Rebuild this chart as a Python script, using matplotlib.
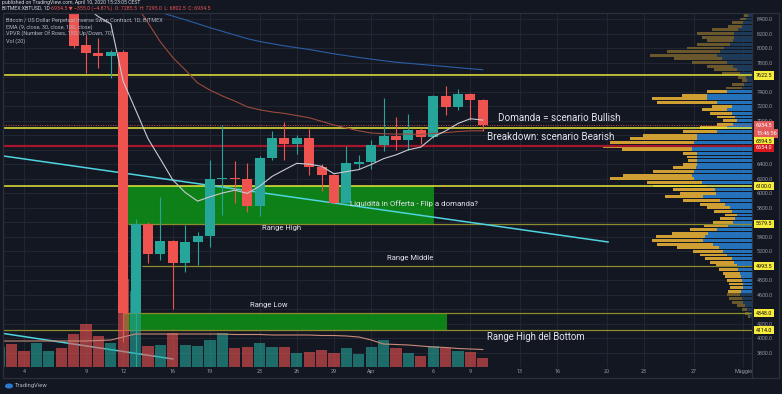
import matplotlib
matplotlib.use("Agg")
import matplotlib.pyplot as plt
from matplotlib.patches import Rectangle, Ellipse

plt.rcParams['font.family'] = ['Roboto', 'DejaVu Sans']

# ---------------- data ----------------
# day numbers: 2..31 = March 2..31, 32..41 = April 1..10
day_nums = list(range(2, 42))
opens = [8540, 8900, 8760, 8750, 9070, 9150, 8900, 8040, 7928, 7890,
         7940, 4352, 5577, 5164, 5340, 5036, 5325, 5415, 6193, 6210,
         6197, 5825, 6490, 6761, 6680, 6761, 6358, 6248, 5862, 6408,
         6431, 6666, 6793, 6738, 6875, 6771, 7336, 7188, 7368, 7285.5]
highs = [8950, 8980, 8850, 9150, 9190, 9200, 8920, 8180, 8140, 7970,
         7970, 5640, 5605, 5950, 5360, 5560, 5460, 6462, 6945, 6440,
         6417, 6520, 6860, 6986, 6800, 6890, 6400, 6265, 6647, 6531,
         6740, 7312, 7051, 7092, 6895, 7350, 7473, 7440, 7380, 7295]
lows = [8500, 8660, 8650, 8740, 9010, 8850, 8000, 7650, 7725, 7590,
        3950, 3600, 5040, 5080, 4400, 4920, 5012, 5265, 5700, 5866,
        5747, 5690, 6458, 6462, 6540, 6256, 6031, 5850, 5855, 6340,
        6340, 6578, 6600, 6600, 6680, 6760, 7074, 7151, 7013, 6860]
closes = [8900, 8760, 8750, 9070, 9150, 8900, 8030, 7928, 7890, 7940,
          4352, 5577, 5164, 5340, 5036, 5325, 5415, 6193, 6210, 6197,
          5825, 6490, 6761, 6680, 6761, 6358, 6248, 5862, 6417, 6431,
          6666, 6793, 6738, 6875, 6771, 7336, 7188, 7368, 7289, 6934.5]
volumes = [2.0, 2.3, 1.6, 2.4, 1.6, 1.9, 3.3, 4.3, 3.1, 2.4,
           8.8, 7.6, 2.1, 2.2, 3.4, 2.2, 2.1, 2.7, 3.4, 1.9,
           2.0, 2.4, 2.0, 2.0, 1.4, 1.5, 1.7, 1.4, 1.9, 1.3,
           2.0, 2.7, 1.9, 1.4, 1.1, 2.1, 1.9, 1.6, 1.5, 0.9]
vol_ma = [2.6, 2.6, 2.6, 2.6, 2.6, 2.6, 2.6, 2.6, 2.65, 2.7,
          3.0, 3.3, 3.3, 3.3, 3.3, 3.3, 3.3, 3.3, 3.3, 3.25,
          3.25, 3.25, 3.2, 3.2, 3.2, 3.2, 3.15, 3.15, 3.1, 3.0,
          2.7, 2.3, 2.25, 2.2, 2.1, 2.0, 1.95, 1.85, 1.8, 1.75]
ema9 = [8760, 8790, 8800, 8860, 8930, 8920, 8726, 8567, 8431, 8333,
        7542, 7149, 6752, 6470, 6183, 6011, 5892, 5952, 6004, 6042,
        5999, 6097, 6232, 6323, 6412, 6401, 6371, 6269, 6298, 6326,
        6396, 6477, 6529, 6599, 6635, 6776, 6859, 6961, 7026, 7008]
ema30 = [9450, 9420, 9390, 9370, 9360, 9340, 9280, 9220, 9160, 9110,
         8800, 8600, 8350, 8083, 7870, 7700, 7520, 7420, 7340, 7270,
         7190, 7150, 7120, 7100, 7070, 7040, 6990, 6940, 6900, 6860,
         6830, 6820, 6815, 6815, 6810, 6825, 6835, 6850, 6860, 6860]
ema100 = [8960, 8950, 8940, 8930, 8920, 8910, 8890, 8860, 8830, 8800,
          8700, 8620, 8550, 8490, 8440, 8390, 8335, 8280, 8230, 8180,
          8130, 8090, 8060, 8030, 8005, 7980, 7950, 7920, 7895, 7870,
          7848, 7825, 7805, 7790, 7775, 7760, 7745, 7730, 7715, 7702]

x_tick_days = [4, 9, 12, 16, 19, 23, 26, 29, 32, 37, 40, 44, 47, 51, 54, 58, 62]
x_tick_labels = ['4', '9', '12', '16', '19', '23', '26', '29', 'Apr', '6', '9',
                 '13', '16', '20', '23', '27', 'Maggio']
price_ticks = [3800, 4000, 4200, 4600, 4800, 5200, 5400, 5800, 6000, 6200,
               6400, 7000, 7200, 7400, 7800, 8000, 8200, 8400]
grid_prices = list(range(3800, 8600, 200))

levels_bright = [7622.5, 6894.5, 6100.0]
levels_dim = [5579.5, 4993.5, 4348.0, 4114.0]
levels_dim_start = [12.4, 13.5, 12.0, 1.0]
level_red = 6654.0
last_price = 6934.5

zone_days = [(12.4, 37.1), (12.0, 38.1)]
zone_prices = [(5579.5, 6100.0), (4114.0, 4348.0)]

trend1_days = [2.31, 51.1]
trend1_prices = [6514, 5329]
trend2_days = [2.06, 16.0]
trend2_prices = [4076, 3718]

vp_prices = list(range(8450, 4250, -50))
vp_total = [8, 12, 20, 24, 40, 55, 50, 45, 55, 65,
            85, 102, 78, 60, 45, 38, 30, 14, 10, 20,
            26, 45, 70, 100, 95, 40, 50, 42, 35, 29,
            35, 52, 69, 109, 122, 142, 149, 130, 69, 65,
            64, 69, 79, 99, 129, 142, 105, 99, 79, 72,
            87, 69, 52, 45, 38, 27, 32, 39, 48, 62,
            80, 96, 100, 95, 75, 59, 52, 47, 42, 36,
            33, 29, 27, 25, 23, 22, 24, 25, 23, 20,
            15, 10, 7, 4]
vp_up = [4, 6, 9, 10, 14, 18, 18, 19, 22, 28,
         32, 35, 30, 25, 19, 15, 12, 6, 5, 8,
         10, 25, 45, 45, 35, 20, 25, 20, 17, 15,
         19, 25, 35, 55, 55, 58, 60, 60, 55, 55,
         55, 55, 56, 58, 60, 58, 50, 45, 37, 36,
         49, 32, 27, 22, 20, 15, 17, 19, 24, 35,
         44, 47, 49, 39, 33, 29, 25, 20, 18, 15,
         14, 12, 11, 10, 9, 9, 11, 12, 10, 9,
         7, 5, 3, 2]
VA_LOW, VA_HIGH = 4620, 7420

# ---------------- styles ----------------
BG = '#131722'
GRID = '#232733'
TXT = '#9598a1'
UP = '#26a69a'
DN = '#ef5350'
YEL = '#e8e63a'
YEL_LBL = '#f7ec3c'
OLIVE = '#8e8b2c'
RED_LINE = '#a3162b'
CYAN = '#4fd3e0'
ZONE = '#0e8f17'
FRAME = '#2c303b'
ANN = '#e1e3ea'

FIG_W, FIG_H = 782, 394
fig = plt.figure(figsize=(FIG_W / 100, FIG_H / 100), dpi=100, facecolor=BG)
PL, PR, PT, PB = 3, 752, 13, 367
rect = [PL / FIG_W, 1 - PB / FIG_H, (PR - PL) / FIG_W, (PB - PT) / FIG_H]
X_LIM = (2.306, 62.71)
Y_LIM = (3607.3, 8482.6)

# ---- grid / ticks axes
ax_g = fig.add_axes(rect, zorder=0)
ax_g.set_facecolor(BG)
for p in grid_prices:
    ax_g.axhline(p, color=GRID, lw=0.7)
for d in x_tick_days:
    ax_g.axvline(d, color=GRID, lw=0.7)
ax_g.set_xticks(x_tick_days)
ax_g.set_xticklabels(x_tick_labels)
ax_g.set_yticks(price_ticks)
ax_g.set_yticklabels([f'{p:.1f}' for p in price_ticks])
ax_g.yaxis.tick_right()
ax_g.tick_params(axis='both', length=0, colors=TXT, labelsize=3.9)
ax_g.tick_params(axis='x', pad=1.6)
ax_g.tick_params(axis='y', pad=3.6)
for s in ax_g.spines.values():
    s.set_visible(False)
ax_g.set_xlim(*X_LIM)
ax_g.set_ylim(*Y_LIM)

# ---- volume profile
ax_p = fig.add_axes(rect, zorder=1)
ax_p.patch.set_visible(False)
ax_p.axis('off')
up_cols = ['#2472ba' if VA_LOW <= p <= VA_HIGH else '#1d3a58' for p in vp_prices]
dn_cols = ['#cf9f34' if VA_LOW <= p <= VA_HIGH else '#6a582c' for p in vp_prices]
ax_p.barh(vp_prices, vp_up, left=0, height=40, color=up_cols)
ax_p.barh(vp_prices, [t - u for t, u in zip(vp_total, vp_up)], left=vp_up,
          height=40, color=dn_cols)
ax_p.set_xlim(PR - PL, 0)
ax_p.set_ylim(*Y_LIM)

# ---- main price axes
ax = fig.add_axes(rect, zorder=2)
ax.patch.set_visible(False)
ax.axis('off')
for (d0, d1), (p0, p1) in zip(zone_days, zone_prices):
    ax.add_patch(Rectangle((d0, p0), d1 - d0, p1 - p0, fc=ZONE, ec='none',
                           alpha=0.88, zorder=1))
for lv in levels_bright:
    ax.axhline(lv, color=YEL, lw=1.1, zorder=2)
for lv, st in zip(levels_dim, levels_dim_start):
    ax.hlines(lv, st, X_LIM[1], color=OLIVE, lw=0.9, zorder=2)
ax.axhline(level_red, color=RED_LINE, lw=1.6, zorder=2)
ax.axhline(last_price, color=DN, lw=0.7, ls=(0, (1, 1.5)), alpha=0.8, zorder=2)
ax.plot(trend1_days, trend1_prices, color=CYAN, lw=1.1, zorder=3)
ax.plot(trend2_days, trend2_prices, color=CYAN, lw=1.1, zorder=3)

cols = [UP if c >= o else DN for o, c in zip(opens, closes)]
ax.vlines(day_nums, lows, highs, colors=cols, lw=0.8, zorder=4)
ax.bar(day_nums, [max(abs(c - o), 14) for o, c in zip(opens, closes)],
       bottom=[min(o, c) for o, c in zip(opens, closes)], width=0.8,
       color=cols, zorder=5)
ax.plot(day_nums, ema100, color='#2b5ea6', lw=0.8, zorder=6)
ax.plot(day_nums, ema30, color='#9a4b3c', lw=0.8, zorder=6)
ax.plot(day_nums, ema9, color='#c9cbd1', lw=0.8, zorder=6)

ax.text(42.23, 7037, 'Domanda = scenario Bullish', color=ANN, fontsize=7.1,
        va='center', ha='left', zorder=8)
ax.text(41.34, 6775, 'Breakdown: scenario Bearish', color=ANN, fontsize=7.1,
        va='center', ha='left', zorder=8)
ax.text(30.29, 5852, 'Liquidità in Offerta - Flip a domanda?', color=ANN,
        fontsize=5.7, va='center', ha='left', zorder=8)
ax.text(23.19, 5522, 'Range High', color=ANN, fontsize=5.5, va='center', zorder=8)
ax.text(33.27, 5109, 'Range Middle', color=ANN, fontsize=5.5, va='center', zorder=8)
ax.text(22.23, 4461, 'Range Low', color=ANN, fontsize=5.5, va='center', zorder=8)
ax.text(41.34, 4021, 'Range High del Bottom', color=ANN, fontsize=6.9,
        va='center', zorder=8)

# price-axis labels
ytr = ax.get_yaxis_transform()
def plabel(text, price, fc, tc, dy=0):
    ax.annotate(text, xy=(1.0055, price), xycoords=ytr, xytext=(0, dy),
                textcoords='offset pixels', ha='left', va='center',
                fontsize=3.9, color=tc, annotation_clip=False, zorder=9,
                bbox=dict(boxstyle='square,pad=0.3', fc=fc, ec='none'))

plabel('7622.5', 7622.5, YEL_LBL, '#111111')
plabel('6934.5', last_price, '#e05b5b', 'white')
plabel('15:46:56', last_price, '#e05b5b', 'white', dy=-8)
plabel('6894.5', 6894.5, YEL_LBL, '#111111', dy=-13)
plabel('6654.0', level_red, '#d71920', 'white', dy=-2)
for lv in [6100.0] + levels_dim:
    plabel(f'{lv:.1f}', lv, YEL_LBL, '#111111')

ax.set_xlim(*X_LIM)
ax.set_ylim(*Y_LIM)

# ---- volume axes
ax_v = fig.add_axes(rect, zorder=3)
ax_v.patch.set_visible(False)
ax_v.axis('off')
ax_v.bar(day_nums, volumes, width=0.9, color=cols, alpha=0.6)
ax_v.plot(day_nums, vol_ma, color='#c98a78', lw=0.8)
ax_v.set_xlim(*X_LIM)
ax_v.set_ylim(0, 35.4)

# ---- overlay: frame, header, legend, logo
ax_o = fig.add_axes([0, 0, 1, 1], zorder=4)
ax_o.patch.set_visible(False)
ax_o.axis('off')
ax_o.set_xlim(0, FIG_W)
ax_o.set_ylim(FIG_H, 0)
ax_o.add_patch(Rectangle((3, 13), 776, 365, fill=False, ec=FRAME, lw=0.9))
ax_o.plot([752, 752], [13, 378], color=FRAME, lw=0.9)

ax_o.text(2, 2.7, 'published on TradingView.com, April 10, 2020 15:23:05 CEST',
          color='#d1d4dc', fontsize=3.7, va='center', ha='left')
t1 = ax_o.text(2, 8.2, 'BITMEX:XBTUSD, 1D ', color='#d1d4dc', fontsize=3.8,
               va='center', ha='left')
ax_o.annotate('6934.5 \u25bc \u2212355.0 (\u22124.87%)  O: 7285.5  H: 7295.0  L: 6802.5  C: 6934.5',
              xy=(1, 0.5), xycoords=t1, va='center', ha='left',
              color=DN, fontsize=3.8)
legend_lines = ['Bitcoin / US Dollar Perpetual Inverse Swap Contract, 1D, BITMEX',
                'EMA (9, close, 30, close, 100, close)',
                'VPVR (Number Of Rows, 150, Up/Down, 70)',
                'Vol (20)']
for i, s in enumerate(legend_lines):
    ax_o.text(6, 20 + i * 7.1, s, color='#b2b5be', fontsize=4.0,
              va='center', ha='left')

ax_o.add_patch(Ellipse((9, 386), 8, 5, fc='#2b7bd6', ec='none'))
ax_o.text(15, 386, 'TradingView', color='#b2b5be', fontsize=4.2,
          va='center', ha='left')

fig.savefig('out.png', dpi=100, facecolor=BG)
